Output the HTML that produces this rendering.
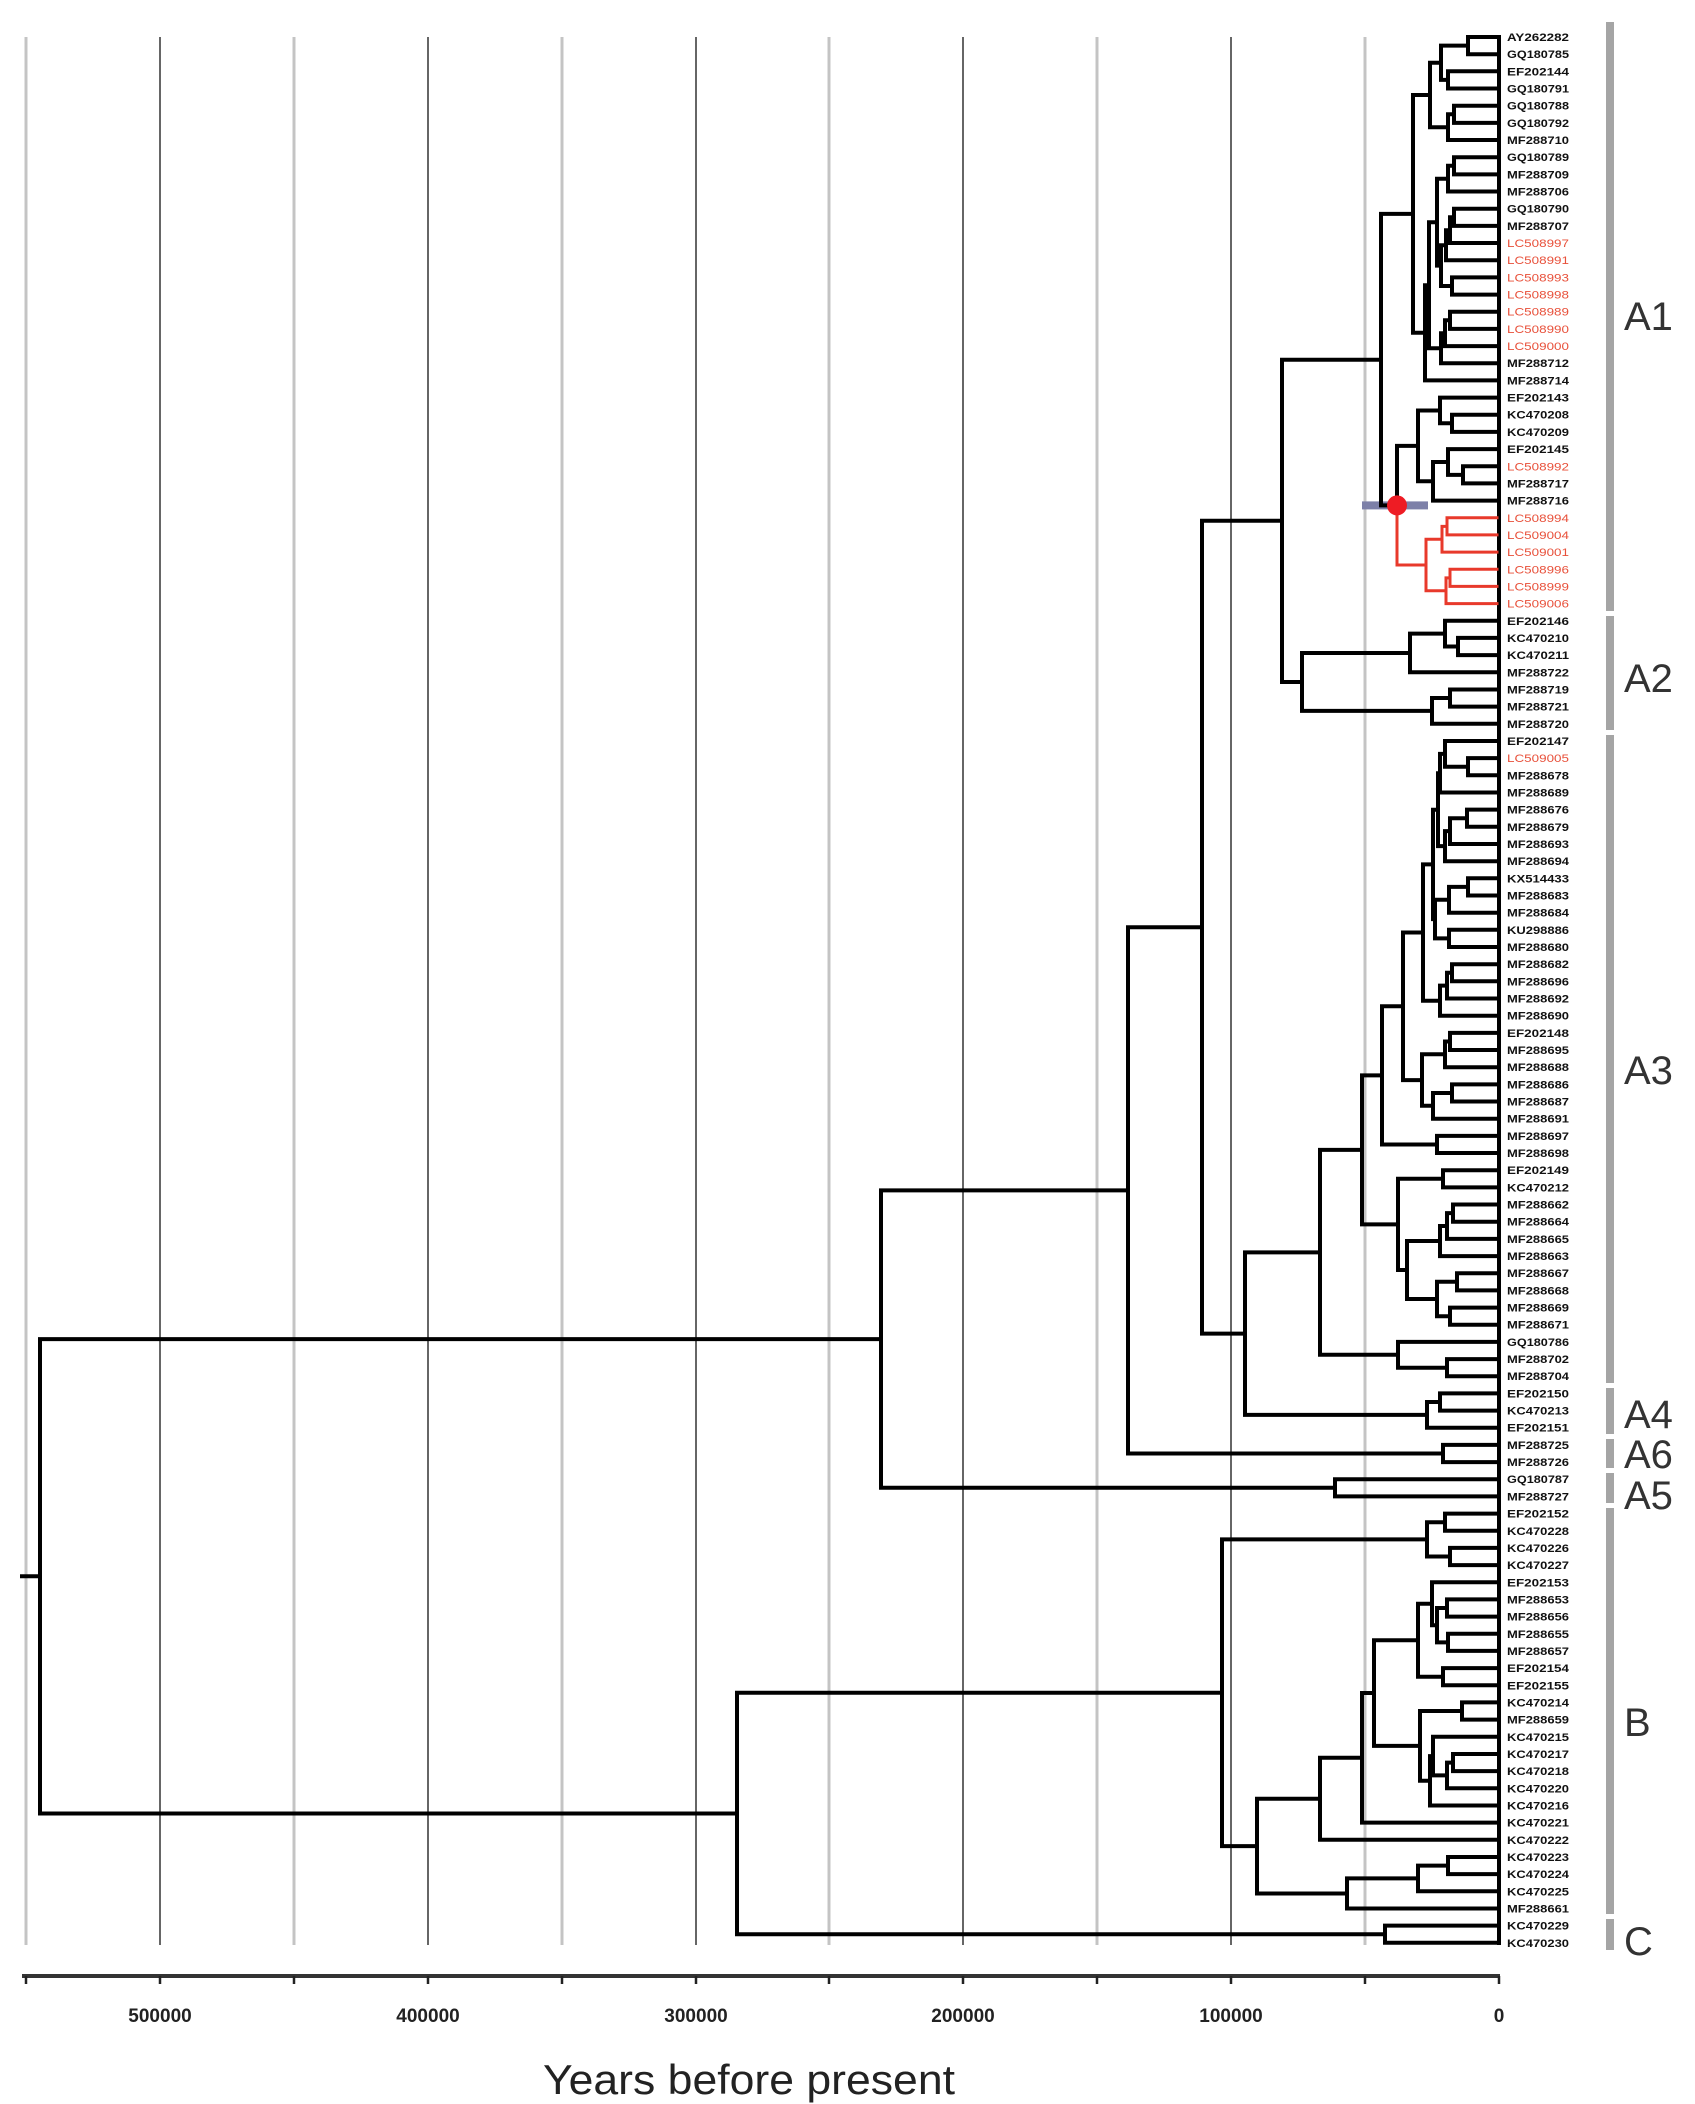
<!DOCTYPE html>
<html><head><meta charset="utf-8"><style>
html,body{margin:0;padding:0;background:#fff;}
svg{display:block;}
.lb{font-family:"Liberation Sans",sans-serif;font-weight:bold;font-size:11px;fill:#111;}
.rd{fill:#e8503a;font-weight:normal;}
.cl{font-family:"Liberation Sans",sans-serif;font-size:40px;fill:#333;}
.ax{font-family:"Liberation Sans",sans-serif;font-weight:bold;font-size:19px;fill:#222;}
</style></head><body>
<svg width="1695" height="2104" viewBox="0 0 1695 2104" xmlns="http://www.w3.org/2000/svg">
<rect width="1695" height="2104" fill="#fff"/>
<g stroke="#c4c4c4" stroke-width="3">
<line x1="26" y1="37" x2="26" y2="1945"/><line x1="294" y1="37" x2="294" y2="1945"/><line x1="562" y1="37" x2="562" y2="1945"/><line x1="829" y1="37" x2="829" y2="1945"/><line x1="1097" y1="37" x2="1097" y2="1945"/><line x1="1365" y1="37" x2="1365" y2="1945"/>
</g>
<g stroke="#333" stroke-width="1.5">
<line x1="160" y1="37" x2="160" y2="1945"/><line x1="428" y1="37" x2="428" y2="1945"/><line x1="696" y1="37" x2="696" y2="1945"/><line x1="963" y1="37" x2="963" y2="1945"/><line x1="1231" y1="37" x2="1231" y2="1945"/>
</g>
<rect x="1362" y="501.4" width="66" height="8" fill="#7d80a8"/>
<g fill="none" stroke="#000" stroke-width="4" stroke-linecap="square">
<path d="M1499 37V1943"/>
<path d="M1468 37V54.2M1468 37H1499M1468 54.2H1499
M1448 71.3V88.5M1448 71.3H1499M1448 88.5H1499
M1441 45.6V79.9M1441 45.6H1468M1441 79.9H1448
M1454 105.7V122.9M1454 105.7H1499M1454 122.9H1499
M1448 114.3V140M1448 114.3H1454M1448 140H1499
M1430 62.8V127.2M1430 62.8H1441M1430 127.2H1448
M1454 157.2V174.4M1454 157.2H1499M1454 174.4H1499
M1448 165.8V191.5M1448 165.8H1454M1448 191.5H1499
M1454 208.7V225.9M1454 208.7H1499M1454 225.9H1499
M1450 217.3V243M1450 217.3H1454M1450 243H1499
M1446 230.2V260.2M1446 230.2H1450M1446 260.2H1499
M1452 277.4V294.6M1452 277.4H1499M1452 294.6H1499
M1441 245.2V286M1441 245.2H1446M1441 286H1452
M1437 178.7V265.6M1437 178.7H1448M1437 265.6H1441
M1450 311.7V328.9M1450 311.7H1499M1450 328.9H1499
M1445 320.3V346.1M1445 320.3H1450M1445 346.1H1499
M1441 333.2V363.2M1441 333.2H1445M1441 363.2H1499
M1429 222.2V348.2M1429 222.2H1437M1429 348.2H1441
M1425 285.2V380.4M1425 285.2H1429M1425 380.4H1499
M1413 95V332.8M1413 95H1430M1413 332.8H1425
M1452 414.7V431.9M1452 414.7H1499M1452 431.9H1499
M1440 397.6V423.3M1440 397.6H1499M1440 423.3H1452
M1463 466.3V483.4M1463 466.3H1499M1463 483.4H1499
M1448 449.1V474.9M1448 449.1H1499M1448 474.9H1463
M1433 462V500.6M1433 462H1448M1433 500.6H1499
M1418 410.5V481.3M1418 410.5H1440M1418 481.3H1433
M1397 445.9V505.4M1397 445.9H1418
M1381 213.9V505.4M1381 213.9H1413M1381 505.4H1397
M1458 637.9V655.1M1458 637.9H1499M1458 655.1H1499
M1445 620.8V646.5M1445 620.8H1499M1445 646.5H1458
M1410 633.6V672.3M1410 633.6H1445M1410 672.3H1499
M1450 689.5V706.6M1450 689.5H1499M1450 706.6H1499
M1432 698V723.8M1432 698H1450M1432 723.8H1499
M1302 653V710.9M1302 653H1410M1302 710.9H1432
M1282 359.7V682M1282 359.7H1381M1282 682H1302
M1468 758.1V775.3M1468 758.1H1499M1468 775.3H1499
M1445 741V766.7M1445 741H1499M1445 766.7H1468
M1440 753.9V792.5M1440 753.9H1445M1440 792.5H1499
M1467 809.6V826.8M1467 809.6H1499M1467 826.8H1499
M1450 818.2V844M1450 818.2H1467M1450 844H1499
M1445 831.1V861.2M1445 831.1H1450M1445 861.2H1499
M1438 773.2V846.1M1438 773.2H1440M1438 846.1H1445
M1468 878.3V895.5M1468 878.3H1499M1468 895.5H1499
M1449 886.9V912.7M1449 886.9H1468M1449 912.7H1499
M1449 929.8V947M1449 929.8H1499M1449 947H1499
M1435 899.8V938.4M1435 899.8H1449M1435 938.4H1449
M1433 809.7V919.1M1433 809.7H1438M1433 919.1H1435
M1452 964.2V981.3M1452 964.2H1499M1452 981.3H1499
M1447 972.8V998.5M1447 972.8H1452M1447 998.5H1499
M1440 985.6V1015.7M1440 985.6H1447M1440 1015.7H1499
M1423 864.4V1000.7M1423 864.4H1433M1423 1000.7H1440
M1450 1032.9V1050M1450 1032.9H1499M1450 1050H1499
M1445 1041.5V1067.2M1445 1041.5H1450M1445 1067.2H1499
M1452 1084.4V1101.5M1452 1084.4H1499M1452 1101.5H1499
M1433 1093V1118.7M1433 1093H1452M1433 1118.7H1499
M1422 1054.3V1105.8M1422 1054.3H1445M1422 1105.8H1433
M1403 932.5V1080.1M1403 932.5H1423M1403 1080.1H1422
M1437 1135.9V1153M1437 1135.9H1499M1437 1153H1499
M1382 1006.3V1144.5M1382 1006.3H1403M1382 1144.5H1437
M1443 1170.2V1187.4M1443 1170.2H1499M1443 1187.4H1499
M1453 1204.5V1221.7M1453 1204.5H1499M1453 1221.7H1499
M1447 1213.1V1238.9M1447 1213.1H1453M1447 1238.9H1499
M1440 1226V1256.1M1440 1226H1447M1440 1256.1H1499
M1457 1273.2V1290.4M1457 1273.2H1499M1457 1290.4H1499
M1450 1307.6V1324.7M1450 1307.6H1499M1450 1324.7H1499
M1437 1281.8V1316.2M1437 1281.8H1457M1437 1316.2H1450
M1407 1241V1299M1407 1241H1440M1407 1299H1437
M1398 1178.8V1270M1398 1178.8H1443M1398 1270H1407
M1362 1075.4V1224.4M1362 1075.4H1382M1362 1224.4H1398
M1447 1359.1V1376.2M1447 1359.1H1499M1447 1376.2H1499
M1398 1341.9V1367.7M1398 1341.9H1499M1398 1367.7H1447
M1320 1149.9V1354.8M1320 1149.9H1362M1320 1354.8H1398
M1440 1393.4V1410.6M1440 1393.4H1499M1440 1410.6H1499
M1427 1402V1427.7M1427 1402H1440M1427 1427.7H1499
M1245 1252.4V1414.9M1245 1252.4H1320M1245 1414.9H1427
M1202 520.8V1333.6M1202 520.8H1282M1202 1333.6H1245
M1443 1444.9V1462.1M1443 1444.9H1499M1443 1462.1H1499
M1128 927.2V1453.5M1128 927.2H1202M1128 1453.5H1443
M1335 1479.2V1496.4M1335 1479.2H1499M1335 1496.4H1499
M881 1190.4V1487.8M881 1190.4H1128M881 1487.8H1335
M1445 1513.6V1530.8M1445 1513.6H1499M1445 1530.8H1499
M1450 1547.9V1565.1M1450 1547.9H1499M1450 1565.1H1499
M1427 1522.2V1556.5M1427 1522.2H1445M1427 1556.5H1450
M1447 1599.4V1616.6M1447 1599.4H1499M1447 1616.6H1499
M1448 1633.8V1650.9M1448 1633.8H1499M1448 1650.9H1499
M1437 1608V1642.4M1437 1608H1447M1437 1642.4H1448
M1432 1582.3V1625.2M1432 1582.3H1499M1432 1625.2H1437
M1443 1668.1V1685.3M1443 1668.1H1499M1443 1685.3H1499
M1418 1603.8V1676.7M1418 1603.8H1432M1418 1676.7H1443
M1462 1702.4V1719.6M1462 1702.4H1499M1462 1719.6H1499
M1453 1754V1771.1M1453 1754H1499M1453 1771.1H1499
M1447 1762.6V1788.3M1447 1762.6H1453M1447 1788.3H1499
M1433 1736.8V1775.4M1433 1736.8H1499M1433 1775.4H1447
M1430 1756.1V1805.5M1430 1756.1H1433M1430 1805.5H1499
M1420 1711V1780.8M1420 1711H1462M1420 1780.8H1430
M1374 1640.2V1745.9M1374 1640.2H1418M1374 1745.9H1420
M1362 1693V1822.6M1362 1693H1374M1362 1822.6H1499
M1320 1757.8V1839.8M1320 1757.8H1362M1320 1839.8H1499
M1448 1857V1874.1M1448 1857H1499M1448 1874.1H1499
M1418 1865.6V1891.3M1418 1865.6H1448M1418 1891.3H1499
M1347 1878.4V1908.5M1347 1878.4H1418M1347 1908.5H1499
M1257 1798.8V1893.5M1257 1798.8H1320M1257 1893.5H1347
M1222 1539.4V1846.1M1222 1539.4H1427M1222 1846.1H1257
M1385 1925.6V1942.8M1385 1925.6H1499M1385 1942.8H1499
M737 1692.8V1934.2M737 1692.8H1222M737 1934.2H1385
M40 1339.1V1813.5M40 1339.1H881M40 1813.5H737M22 1576.3H40"/>
</g>
<g fill="none" stroke="#e8392b" stroke-width="3" stroke-linecap="square">
<path d="M1397 505.4V565H1426
M1426 539.2V590.7M1426 539.2H1442M1426 590.7H1446
M1447 517.8V534.9M1447 517.8H1497M1447 534.9H1497
M1442 526.4V552.1M1442 526.4H1447M1442 552.1H1497
M1450 569.3V586.4M1450 569.3H1497M1450 586.4H1497
M1446 577.9V603.6M1446 577.9H1450M1446 603.6H1497"/>
</g>
<circle cx="1397" cy="505.4" r="10" fill="#ee1c24"/>
<g class="lb">
<text x="1507" y="41" textLength="62" lengthAdjust="spacingAndGlyphs">AY262282</text>
<text x="1507" y="58.2" textLength="62" lengthAdjust="spacingAndGlyphs">GQ180785</text>
<text x="1507" y="75.3" textLength="62" lengthAdjust="spacingAndGlyphs">EF202144</text>
<text x="1507" y="92.5" textLength="62" lengthAdjust="spacingAndGlyphs">GQ180791</text>
<text x="1507" y="109.7" textLength="62" lengthAdjust="spacingAndGlyphs">GQ180788</text>
<text x="1507" y="126.9" textLength="62" lengthAdjust="spacingAndGlyphs">GQ180792</text>
<text x="1507" y="144" textLength="62" lengthAdjust="spacingAndGlyphs">MF288710</text>
<text x="1507" y="161.2" textLength="62" lengthAdjust="spacingAndGlyphs">GQ180789</text>
<text x="1507" y="178.4" textLength="62" lengthAdjust="spacingAndGlyphs">MF288709</text>
<text x="1507" y="195.5" textLength="62" lengthAdjust="spacingAndGlyphs">MF288706</text>
<text x="1507" y="212.7" textLength="62" lengthAdjust="spacingAndGlyphs">GQ180790</text>
<text x="1507" y="229.9" textLength="62" lengthAdjust="spacingAndGlyphs">MF288707</text>
<text class="rd" x="1507" y="247" textLength="62" lengthAdjust="spacingAndGlyphs">LC508997</text>
<text class="rd" x="1507" y="264.2" textLength="62" lengthAdjust="spacingAndGlyphs">LC508991</text>
<text class="rd" x="1507" y="281.4" textLength="62" lengthAdjust="spacingAndGlyphs">LC508993</text>
<text class="rd" x="1507" y="298.6" textLength="62" lengthAdjust="spacingAndGlyphs">LC508998</text>
<text class="rd" x="1507" y="315.7" textLength="62" lengthAdjust="spacingAndGlyphs">LC508989</text>
<text class="rd" x="1507" y="332.9" textLength="62" lengthAdjust="spacingAndGlyphs">LC508990</text>
<text class="rd" x="1507" y="350.1" textLength="62" lengthAdjust="spacingAndGlyphs">LC509000</text>
<text x="1507" y="367.2" textLength="62" lengthAdjust="spacingAndGlyphs">MF288712</text>
<text x="1507" y="384.4" textLength="62" lengthAdjust="spacingAndGlyphs">MF288714</text>
<text x="1507" y="401.6" textLength="62" lengthAdjust="spacingAndGlyphs">EF202143</text>
<text x="1507" y="418.7" textLength="62" lengthAdjust="spacingAndGlyphs">KC470208</text>
<text x="1507" y="435.9" textLength="62" lengthAdjust="spacingAndGlyphs">KC470209</text>
<text x="1507" y="453.1" textLength="62" lengthAdjust="spacingAndGlyphs">EF202145</text>
<text class="rd" x="1507" y="470.3" textLength="62" lengthAdjust="spacingAndGlyphs">LC508992</text>
<text x="1507" y="487.4" textLength="62" lengthAdjust="spacingAndGlyphs">MF288717</text>
<text x="1507" y="504.6" textLength="62" lengthAdjust="spacingAndGlyphs">MF288716</text>
<text class="rd" x="1507" y="521.8" textLength="62" lengthAdjust="spacingAndGlyphs">LC508994</text>
<text class="rd" x="1507" y="538.9" textLength="62" lengthAdjust="spacingAndGlyphs">LC509004</text>
<text class="rd" x="1507" y="556.1" textLength="62" lengthAdjust="spacingAndGlyphs">LC509001</text>
<text class="rd" x="1507" y="573.3" textLength="62" lengthAdjust="spacingAndGlyphs">LC508996</text>
<text class="rd" x="1507" y="590.4" textLength="62" lengthAdjust="spacingAndGlyphs">LC508999</text>
<text class="rd" x="1507" y="607.6" textLength="62" lengthAdjust="spacingAndGlyphs">LC509006</text>
<text x="1507" y="624.8" textLength="62" lengthAdjust="spacingAndGlyphs">EF202146</text>
<text x="1507" y="641.9" textLength="62" lengthAdjust="spacingAndGlyphs">KC470210</text>
<text x="1507" y="659.1" textLength="62" lengthAdjust="spacingAndGlyphs">KC470211</text>
<text x="1507" y="676.3" textLength="62" lengthAdjust="spacingAndGlyphs">MF288722</text>
<text x="1507" y="693.5" textLength="62" lengthAdjust="spacingAndGlyphs">MF288719</text>
<text x="1507" y="710.6" textLength="62" lengthAdjust="spacingAndGlyphs">MF288721</text>
<text x="1507" y="727.8" textLength="62" lengthAdjust="spacingAndGlyphs">MF288720</text>
<text x="1507" y="745" textLength="62" lengthAdjust="spacingAndGlyphs">EF202147</text>
<text class="rd" x="1507" y="762.1" textLength="62" lengthAdjust="spacingAndGlyphs">LC509005</text>
<text x="1507" y="779.3" textLength="62" lengthAdjust="spacingAndGlyphs">MF288678</text>
<text x="1507" y="796.5" textLength="62" lengthAdjust="spacingAndGlyphs">MF288689</text>
<text x="1507" y="813.6" textLength="62" lengthAdjust="spacingAndGlyphs">MF288676</text>
<text x="1507" y="830.8" textLength="62" lengthAdjust="spacingAndGlyphs">MF288679</text>
<text x="1507" y="848" textLength="62" lengthAdjust="spacingAndGlyphs">MF288693</text>
<text x="1507" y="865.2" textLength="62" lengthAdjust="spacingAndGlyphs">MF288694</text>
<text x="1507" y="882.3" textLength="62" lengthAdjust="spacingAndGlyphs">KX514433</text>
<text x="1507" y="899.5" textLength="62" lengthAdjust="spacingAndGlyphs">MF288683</text>
<text x="1507" y="916.7" textLength="62" lengthAdjust="spacingAndGlyphs">MF288684</text>
<text x="1507" y="933.8" textLength="62" lengthAdjust="spacingAndGlyphs">KU298886</text>
<text x="1507" y="951" textLength="62" lengthAdjust="spacingAndGlyphs">MF288680</text>
<text x="1507" y="968.2" textLength="62" lengthAdjust="spacingAndGlyphs">MF288682</text>
<text x="1507" y="985.3" textLength="62" lengthAdjust="spacingAndGlyphs">MF288696</text>
<text x="1507" y="1002.5" textLength="62" lengthAdjust="spacingAndGlyphs">MF288692</text>
<text x="1507" y="1019.7" textLength="62" lengthAdjust="spacingAndGlyphs">MF288690</text>
<text x="1507" y="1036.9" textLength="62" lengthAdjust="spacingAndGlyphs">EF202148</text>
<text x="1507" y="1054" textLength="62" lengthAdjust="spacingAndGlyphs">MF288695</text>
<text x="1507" y="1071.2" textLength="62" lengthAdjust="spacingAndGlyphs">MF288688</text>
<text x="1507" y="1088.4" textLength="62" lengthAdjust="spacingAndGlyphs">MF288686</text>
<text x="1507" y="1105.5" textLength="62" lengthAdjust="spacingAndGlyphs">MF288687</text>
<text x="1507" y="1122.7" textLength="62" lengthAdjust="spacingAndGlyphs">MF288691</text>
<text x="1507" y="1139.9" textLength="62" lengthAdjust="spacingAndGlyphs">MF288697</text>
<text x="1507" y="1157" textLength="62" lengthAdjust="spacingAndGlyphs">MF288698</text>
<text x="1507" y="1174.2" textLength="62" lengthAdjust="spacingAndGlyphs">EF202149</text>
<text x="1507" y="1191.4" textLength="62" lengthAdjust="spacingAndGlyphs">KC470212</text>
<text x="1507" y="1208.5" textLength="62" lengthAdjust="spacingAndGlyphs">MF288662</text>
<text x="1507" y="1225.7" textLength="62" lengthAdjust="spacingAndGlyphs">MF288664</text>
<text x="1507" y="1242.9" textLength="62" lengthAdjust="spacingAndGlyphs">MF288665</text>
<text x="1507" y="1260.1" textLength="62" lengthAdjust="spacingAndGlyphs">MF288663</text>
<text x="1507" y="1277.2" textLength="62" lengthAdjust="spacingAndGlyphs">MF288667</text>
<text x="1507" y="1294.4" textLength="62" lengthAdjust="spacingAndGlyphs">MF288668</text>
<text x="1507" y="1311.6" textLength="62" lengthAdjust="spacingAndGlyphs">MF288669</text>
<text x="1507" y="1328.7" textLength="62" lengthAdjust="spacingAndGlyphs">MF288671</text>
<text x="1507" y="1345.9" textLength="62" lengthAdjust="spacingAndGlyphs">GQ180786</text>
<text x="1507" y="1363.1" textLength="62" lengthAdjust="spacingAndGlyphs">MF288702</text>
<text x="1507" y="1380.2" textLength="62" lengthAdjust="spacingAndGlyphs">MF288704</text>
<text x="1507" y="1397.4" textLength="62" lengthAdjust="spacingAndGlyphs">EF202150</text>
<text x="1507" y="1414.6" textLength="62" lengthAdjust="spacingAndGlyphs">KC470213</text>
<text x="1507" y="1431.7" textLength="62" lengthAdjust="spacingAndGlyphs">EF202151</text>
<text x="1507" y="1448.9" textLength="62" lengthAdjust="spacingAndGlyphs">MF288725</text>
<text x="1507" y="1466.1" textLength="62" lengthAdjust="spacingAndGlyphs">MF288726</text>
<text x="1507" y="1483.2" textLength="62" lengthAdjust="spacingAndGlyphs">GQ180787</text>
<text x="1507" y="1500.4" textLength="62" lengthAdjust="spacingAndGlyphs">MF288727</text>
<text x="1507" y="1517.6" textLength="62" lengthAdjust="spacingAndGlyphs">EF202152</text>
<text x="1507" y="1534.8" textLength="62" lengthAdjust="spacingAndGlyphs">KC470228</text>
<text x="1507" y="1551.9" textLength="62" lengthAdjust="spacingAndGlyphs">KC470226</text>
<text x="1507" y="1569.1" textLength="62" lengthAdjust="spacingAndGlyphs">KC470227</text>
<text x="1507" y="1586.3" textLength="62" lengthAdjust="spacingAndGlyphs">EF202153</text>
<text x="1507" y="1603.4" textLength="62" lengthAdjust="spacingAndGlyphs">MF288653</text>
<text x="1507" y="1620.6" textLength="62" lengthAdjust="spacingAndGlyphs">MF288656</text>
<text x="1507" y="1637.8" textLength="62" lengthAdjust="spacingAndGlyphs">MF288655</text>
<text x="1507" y="1654.9" textLength="62" lengthAdjust="spacingAndGlyphs">MF288657</text>
<text x="1507" y="1672.1" textLength="62" lengthAdjust="spacingAndGlyphs">EF202154</text>
<text x="1507" y="1689.3" textLength="62" lengthAdjust="spacingAndGlyphs">EF202155</text>
<text x="1507" y="1706.4" textLength="62" lengthAdjust="spacingAndGlyphs">KC470214</text>
<text x="1507" y="1723.6" textLength="62" lengthAdjust="spacingAndGlyphs">MF288659</text>
<text x="1507" y="1740.8" textLength="62" lengthAdjust="spacingAndGlyphs">KC470215</text>
<text x="1507" y="1758" textLength="62" lengthAdjust="spacingAndGlyphs">KC470217</text>
<text x="1507" y="1775.1" textLength="62" lengthAdjust="spacingAndGlyphs">KC470218</text>
<text x="1507" y="1792.3" textLength="62" lengthAdjust="spacingAndGlyphs">KC470220</text>
<text x="1507" y="1809.5" textLength="62" lengthAdjust="spacingAndGlyphs">KC470216</text>
<text x="1507" y="1826.6" textLength="62" lengthAdjust="spacingAndGlyphs">KC470221</text>
<text x="1507" y="1843.8" textLength="62" lengthAdjust="spacingAndGlyphs">KC470222</text>
<text x="1507" y="1861" textLength="62" lengthAdjust="spacingAndGlyphs">KC470223</text>
<text x="1507" y="1878.1" textLength="62" lengthAdjust="spacingAndGlyphs">KC470224</text>
<text x="1507" y="1895.3" textLength="62" lengthAdjust="spacingAndGlyphs">KC470225</text>
<text x="1507" y="1912.5" textLength="62" lengthAdjust="spacingAndGlyphs">MF288661</text>
<text x="1507" y="1929.6" textLength="62" lengthAdjust="spacingAndGlyphs">KC470229</text>
<text x="1507" y="1946.8" textLength="62" lengthAdjust="spacingAndGlyphs">KC470230</text>
</g>
<g fill="#a5a5a5">
<rect x="1606" y="22" width="8" height="589"/>
<rect x="1606" y="616" width="8" height="114"/>
<rect x="1606" y="735" width="8" height="648"/>
<rect x="1606" y="1388" width="8" height="46"/>
<rect x="1606" y="1439" width="8" height="29"/>
<rect x="1606" y="1473" width="8" height="30"/>
<rect x="1606" y="1508" width="8" height="406"/>
<rect x="1606" y="1919" width="8" height="31"/>
</g>
<g class="cl">
<text x="1624" y="330">A1</text>
<text x="1624" y="692">A2</text>
<text x="1624" y="1084">A3</text>
<text x="1624" y="1428">A4</text>
<text x="1624" y="1468">A6</text>
<text x="1624" y="1509">A5</text>
<text x="1624" y="1736">B</text>
<text x="1624" y="1955">C</text>
</g>
<line x1="22" y1="1976" x2="1500" y2="1976" stroke="#333" stroke-width="4"/>
<g stroke="#222" stroke-width="2.5">
<line x1="26" y1="1976" x2="26" y2="1984"/><line x1="160" y1="1976" x2="160" y2="1984"/><line x1="294" y1="1976" x2="294" y2="1984"/><line x1="428" y1="1976" x2="428" y2="1984"/><line x1="562" y1="1976" x2="562" y2="1984"/><line x1="696" y1="1976" x2="696" y2="1984"/><line x1="829" y1="1976" x2="829" y2="1984"/><line x1="963" y1="1976" x2="963" y2="1984"/><line x1="1097" y1="1976" x2="1097" y2="1984"/><line x1="1231" y1="1976" x2="1231" y2="1984"/><line x1="1365" y1="1976" x2="1365" y2="1984"/><line x1="1499" y1="1976" x2="1499" y2="1984"/>
</g>
<g class="ax" text-anchor="middle">
<text x="160" y="2022">500000</text>
<text x="428" y="2022">400000</text>
<text x="696" y="2022">300000</text>
<text x="963" y="2022">200000</text>
<text x="1231" y="2022">100000</text>
<text x="1499" y="2022">0</text>
</g>
<text x="749" y="2094" text-anchor="middle" font-family="Liberation Sans, sans-serif" font-size="42" fill="#222" textLength="412" lengthAdjust="spacingAndGlyphs">Years before present</text>
</svg>
</body></html>
